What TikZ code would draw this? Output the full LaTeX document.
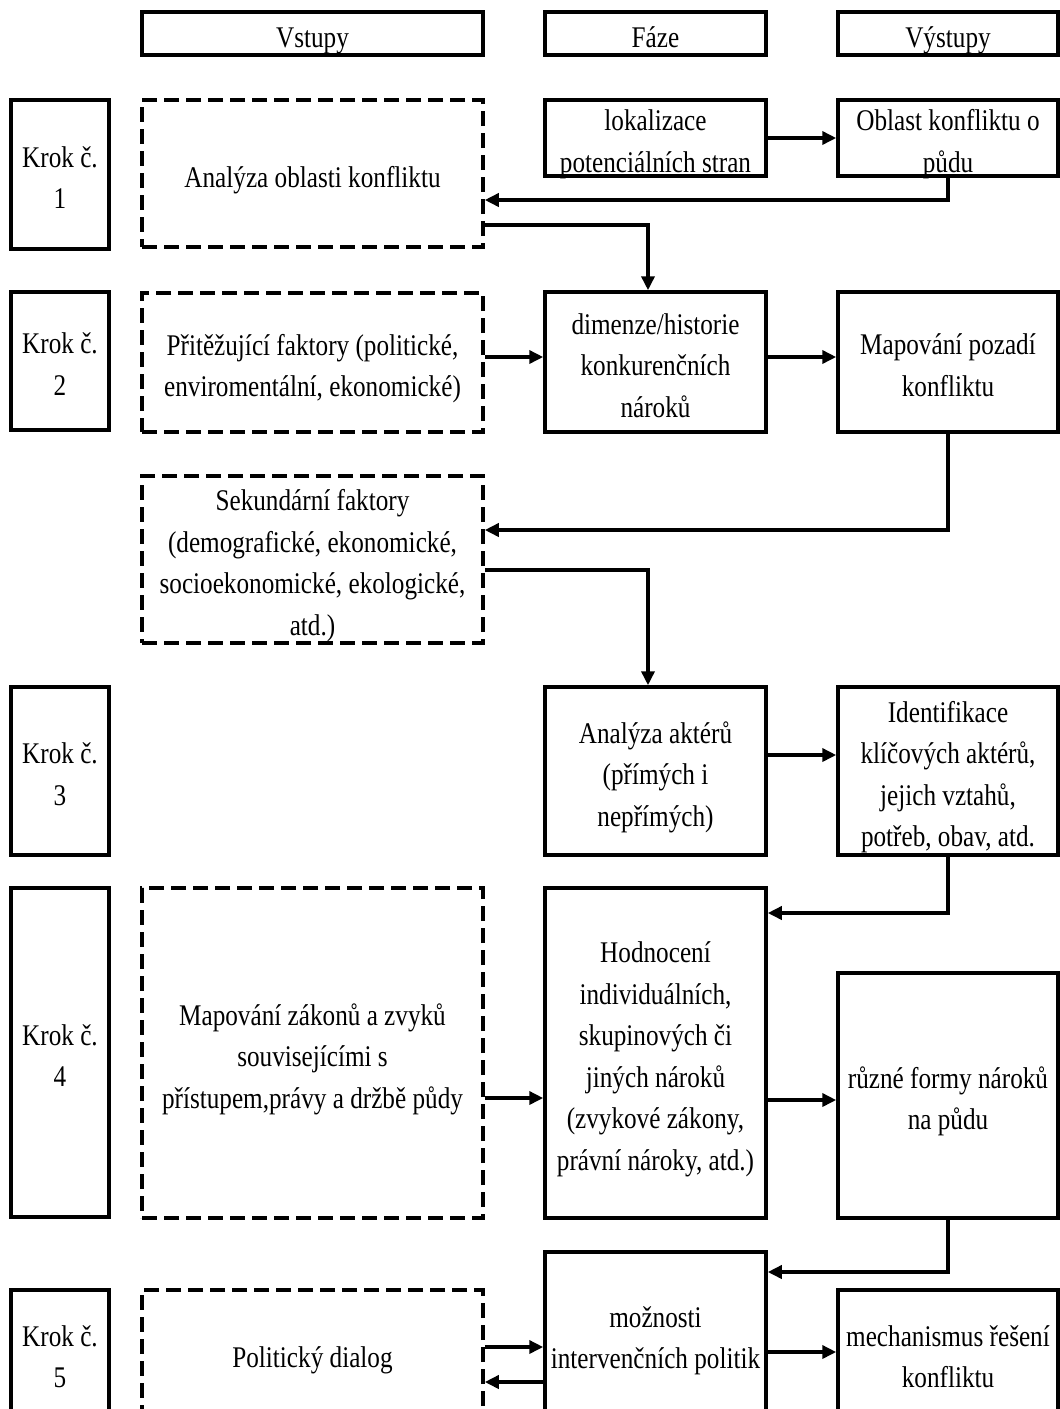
\documentclass[tikz,border=0pt]{standalone}
\usepackage{graphicx}
\usepackage{fontspec}
\setmainfont{Liberation Serif}
\usetikzlibrary{arrows.meta}
\newcommand{\tx}[1]{\raisebox{-11.5pt}{\scalebox{0.84}[1]{\smash{\begin{tabular}{@{}c@{}}#1\end{tabular}}}}}
\begin{document}
\begin{tikzpicture}[x=1pt,y=-1pt,
  box/.style={draw, line width=3.5pt, inner sep=0pt, text height=0pt, text depth=0pt, font=\fontsize{30}{41.5}\selectfont},
  dbox/.style={box, dash pattern=on 15pt off 7pt},
  arr/.style={draw, line width=3.5pt, -{Triangle[length=14pt,width=13pt]}}]
\useasboundingbox (0,0) rectangle (1060,1409);
\clip (0,0) rectangle (1060,1409);
\fill[white] (0,0) rectangle (1060,1409);

% headers
\node[box, minimum width=341pt, minimum height=43pt] (hV) at (312.5,33.5) {\tx{Vstupy}};
\node[box, minimum width=221pt, minimum height=43pt] (hF) at (655.5,33.5) {\tx{Fáze}};
\node[box, minimum width=220pt, minimum height=43pt] (hO) at (948,33.5) {\tx{Výstupy}};

% step 1
\node[box, minimum width=98pt, minimum height=149pt] (k1) at (60,174.5) {\tx{Krok č.\\1}};
\node[dbox, minimum width=341pt, minimum height=147pt] (an1) at (312.5,173.5) {\tx{Analýza oblasti konfliktu}};
\node[box, minimum width=221pt, minimum height=76pt] (lok) at (655.5,138) {\tx{lokalizace\\potenciálních stran}};
\node[box, minimum width=220pt, minimum height=76pt] (obl) at (948,138) {\tx{Oblast konfliktu o\\půdu}};

% step 2
\node[box, minimum width=98pt, minimum height=138pt] (k2) at (60,361) {\tx{Krok č.\\2}};
\node[dbox, minimum width=341pt, minimum height=139pt] (pri) at (312.5,362.5) {\tx{Přitěžující faktory (politické,\\enviromentální, ekonomické)}};
\node[box, minimum width=221pt, minimum height=140pt] (dim) at (655.5,362) {\tx{dimenze/historie\\konkurenčních\\nároků}};
\node[box, minimum width=220pt, minimum height=140pt] (mapp) at (948,362) {\tx{Mapování pozadí\\konfliktu}};
\node[dbox, minimum width=341pt, minimum height=167pt] (sek) at (312.5,559.5) {\tx{Sekundární faktory\\(demografické, ekonomické,\\socioekonomické, ekologické,\\atd.)}};

% step 3
\node[box, minimum width=98pt, minimum height=168pt] (k3) at (60,771) {\tx{Krok č.\\3}};
\node[box, minimum width=221pt, minimum height=168pt] (akt) at (655.5,771) {\tx{Analýza aktérů\\(přímých i\\nepřímých)}};
\node[box, minimum width=220pt, minimum height=168pt] (ide) at (948,771) {\tx{Identifikace\\klíčových aktérů,\\jejich vztahů,\\potřeb, obav, atd.}};

% step 4
\node[box, minimum width=98pt, minimum height=329pt] (k4) at (60,1052.5) {\tx{Krok č.\\4}};
\node[dbox, minimum width=341pt, minimum height=330pt] (zak) at (312.5,1053) {\tx{Mapování zákonů a zvyků\\souvisejícími s\\přístupem,právy a držbě půdy}};
\node[box, minimum width=221pt, minimum height=330pt] (hod) at (655.5,1053) {\tx{Hodnocení\\individuálních,\\skupinových či\\jiných nároků\\(zvykové zákony,\\právní nároky, atd.)}};
\node[box, minimum width=220pt, minimum height=245pt] (ruz) at (948,1095.5) {\tx{různé formy nároků\\na půdu}};

% step 5
\node[box, minimum width=98pt, minimum height=127pt] (k5) at (60,1353.5) {\tx{Krok č.\\5}};
\node[dbox, minimum width=341pt, minimum height=127pt] (pol) at (312.5,1353.5) {\tx{Politický dialog}};
\node[box, minimum width=221pt, minimum height=165pt] (moz) at (655.5,1334.5) {\tx{možnosti\\intervenčních politik}};
\node[box, minimum width=220pt, minimum height=127pt] (mech) at (948,1353.5) {\tx{mechanismus řešení\\konfliktu}};

% helper coordinates
\coordinate (yA) at (0,200);
\coordinate (yB) at (648,225);
\coordinate (yC) at (0,530);
\coordinate (yD) at (648,570);
\coordinate (yE) at (0,755);
\coordinate (yF) at (0,913);
\coordinate (yG) at (0,1098);
\coordinate (yH) at (0,1100);
\coordinate (yI) at (0,1272);
\coordinate (yJ) at (0,1347);
\coordinate (yK) at (0,1382);
\coordinate (yL) at (0,1352);
\coordinate (yM) at (0,357);

% connectors
\draw[arr] (lok.east) -- (obl.west);
\draw[arr] (obl.south) |- (an1.east |- yA);
\draw[arr] (an1.east |- yB) -| (yB |- dim.north);
\draw[arr] (pri.east |- yM) -- (dim.west |- yM);
\draw[arr] (dim.east |- yM) -- (mapp.west |- yM);
\draw[arr] (mapp.south) |- (sek.east |- yC);
\draw[arr] (sek.east |- yD) -| (yD |- akt.north);
\draw[arr] (akt.east |- yE) -- (ide.west |- yE);
\draw[arr] (ide.south) |- (hod.east |- yF);
\draw[arr] (zak.east |- yG) -- (hod.west |- yG);
\draw[arr] (hod.east |- yH) -- (ruz.west |- yH);
\draw[arr] (ruz.south) |- (moz.east |- yI);
\draw[arr] (pol.east |- yJ) -- (moz.west |- yJ);
\draw[arr] (moz.west |- yK) -- (pol.east |- yK);
\draw[arr] (moz.east |- yL) -- (mech.west |- yL);
\end{tikzpicture}
\end{document}
